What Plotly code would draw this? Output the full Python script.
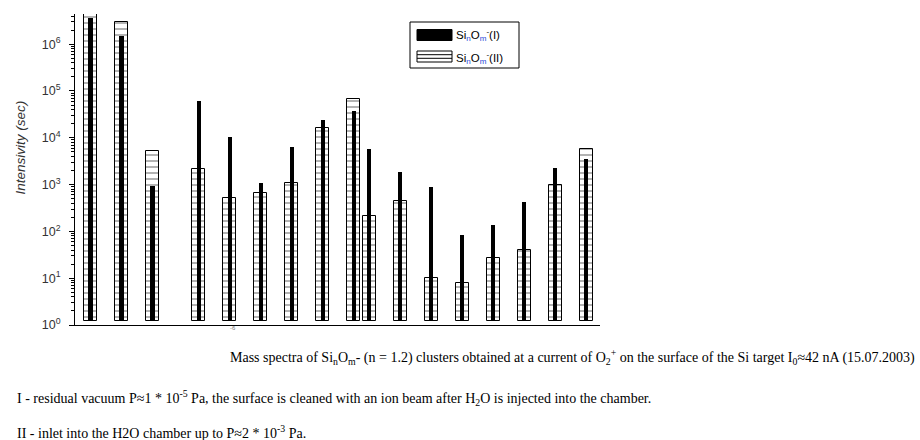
import plotly.graph_objects as go

# ---- data ----
mass_pos = [0.5, 1.5, 2.5, 4, 5, 6, 7, 8, 9, 9.5, 10.5, 11.5, 12.5, 13.5, 14.5, 15.5, 16.5]
series_I = [3.6e6, 1.5e6, 950, 6.2e4, 1.05e4, 1070, 6300, 2.4e4, 3.8e4, 5800, 1900, 910, 83, 139, 425, 2300, 3500]
series_II = [4.8e6, 3.0e6, 5200, 2150, 520, 670, 1070, 1.6e4, 6.7e4, 217, 446, 10, 7.9, 27, 41, 960, 5800]
y_tickvals = [1, 10, 100, 1000, 1e4, 1e5, 1e6]
y_ticktext = ["10<sup>%d</sup>" % i for i in range(7)]
name_I = "Si<sub><span style='color:#2a4bd7'>n</span></sub>O<sub><span style='color:#2a4bd7'>m</span></sub><sup>-</sup>(I)"
name_II = "Si<sub><span style='color:#2a4bd7'>n</span></sub>O<sub><span style='color:#2a4bd7'>m</span></sub><sup>-</sup>(II)"

BASE = 1.2
W = 920
L, R, T, B = 75, 600, 14, 325

def px(x):
    return (x - L) / (R - L)

def py(y):
    return (B - y) / (B - T)

fig = go.Figure()
fig.add_trace(go.Bar(
    x=mass_pos, y=[v - BASE for v in series_II], base=BASE, width=0.42, cliponaxis=False,
    marker=dict(color="white", line=dict(color="black", width=1),
                pattern=dict(shape="-", fgcolor="black", bgcolor="white", size=6, solidity=0.2)),
    name="II", showlegend=False))
fig.add_trace(go.Bar(
    x=mass_pos, y=[v - BASE for v in series_I], base=BASE, width=0.145, cliponaxis=False,
    marker=dict(color="black", line=dict(color="black", width=0)),
    name="I", showlegend=False))

serif = "Liberation Serif"
sans = "Liberation Sans"

annotations = [
    dict(text="<i>Intensivity (sec)</i>", x=px(10), y=py(148), xref="paper", yref="paper",
         textangle=-90, showarrow=False, font=dict(family=sans, size=13.5, color="#333")),
    dict(text="-6", x=px(228), y=py(333), xref="paper", yref="paper", showarrow=False,
         font=dict(family=sans, size=6, color="#777")),
    dict(text="Mass spectra of Si<sub>n</sub>O<sub>m</sub>- (n = 1.2) clusters obtained at a current of O<sub>2</sub><sup>+</sup> on the surface of the Si target I<sub>0</sub>≈42 nA (15.07.2003)",
         x=px(228), y=py(369), xref="paper", yref="paper", xanchor="left", showarrow=False,
         font=dict(family=serif, size=14, color="black")),
    dict(text="I - residual vacuum P≈1 * 10<sup>-5</sup> Pa, the surface is cleaned with an ion beam after H<sub>2</sub>O is injected into the chamber.",
         x=px(15), y=py(410), xref="paper", yref="paper", xanchor="left", showarrow=False,
         font=dict(family=serif, size=14, color="black")),
    dict(text="II - inlet into the H2O chamber up to P≈2 * 10<sup>-3</sup> Pa.",
         x=px(15), y=py(443), xref="paper", yref="paper", xanchor="left", showarrow=False,
         font=dict(family=serif, size=14, color="black")),
    dict(text=name_I, x=px(454), y=py(25.5), xref="paper", yref="paper", xanchor="left", showarrow=False,
         font=dict(family=sans, size=11.5, color="black")),
    dict(text=name_II, x=px(454), y=py(47.5), xref="paper", yref="paper", xanchor="left", showarrow=False,
         font=dict(family=sans, size=11.5, color="black")),
]

shapes = [
    dict(type="rect", xref="paper", yref="paper", x0=px(410), x1=px(519), y0=py(68), y1=py(22),
         line=dict(color="black", width=1), fillcolor="white", layer="above"),
    dict(type="rect", xref="paper", yref="paper", x0=px(417), x1=px(452), y0=py(40.5), y1=py(29.5),
         line=dict(color="black", width=1), fillcolor="black", layer="above"),
    dict(type="rect", xref="paper", yref="paper", x0=px(417), x1=px(452), y0=py(62), y1=py(51),
         line=dict(color="black", width=1), fillcolor="white", layer="above"),
    dict(type="line", xref="paper", yref="paper", x0=px(417), x1=px(452), y0=py(54.7), y1=py(54.7),
         line=dict(color="black", width=1), layer="above"),
    dict(type="line", xref="paper", yref="paper", x0=px(417), x1=px(452), y0=py(58.3), y1=py(58.3),
         line=dict(color="black", width=1), layer="above"),
]

fig.update_layout(
    width=W, height=440,
    margin=dict(l=L, r=W - R, t=T, b=440 - B, autoexpand=False),
    paper_bgcolor="white", plot_bgcolor="white",
    barmode="overlay", bargap=0,
    showlegend=False,
    annotations=annotations, shapes=shapes,
    xaxis=dict(range=[0, 16.95], showgrid=False, zeroline=False, showline=True,
               linecolor="black", linewidth=1, ticks="", showticklabels=False, fixedrange=True),
    yaxis=dict(type="log", range=[0, 6.645], showgrid=False, zeroline=False, showline=True,
               linecolor="black", linewidth=1, ticks="outside", ticklen=5, tickcolor="black",
               tickvals=y_tickvals, ticktext=y_ticktext, ticklabelstandoff=6,
               tickfont=dict(family=sans, size=12.5, color="#333"),
               minor=dict(ticks="outside", ticklen=3, tickcolor="black", dtick="D1", showgrid=False)),
)

fig.write_html("out.html", config={"displayModeBar": False},
               post_script="document.body.style.margin='0px';document.body.style.overflow='hidden';"
                           "document.documentElement.style.overflow='hidden';")
